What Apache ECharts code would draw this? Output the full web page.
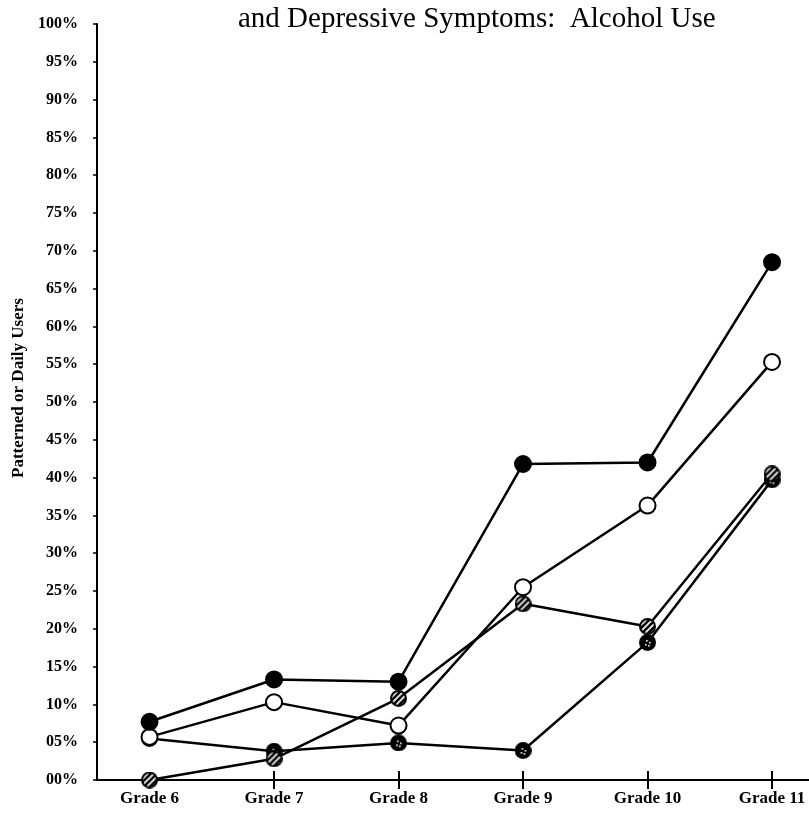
<!DOCTYPE html>
<html>
<head>
<meta charset="utf-8">
<script src="https://cdn.jsdelivr.net/npm/echarts@6/dist/echarts.min.js"></script>
<style>
  html, body { margin: 0; padding: 0; background: #fff; }
  #chart { width: 809px; height: 817px; }
</style>
</head>
<body>
<div id="chart"></div>
<script>
// grades on the x axis
const grades = [6, 7, 8, 9, 10, 11];
const gradeTicks = [7, 8, 9, 10, 11];

// percent of patterned or daily users, one list per group
const solidSeries = [7.7, 13.3, 13.0, 41.8, 42.0, 68.5];
const openSeries = [5.7, 10.3, 7.2, 25.5, 36.3, 55.3];
const stripedSeries = [0, 2.8, 10.8, 23.3, 20.3, 40.5];
const dottedSeries = [5.5, 3.8, 4.9, 3.9, 18.2, 39.7];

const serif = 'Liberation Serif';
const markSize = 17;

// hatched marker images, drawn once on a small canvas
function marker(kind) {
  const s = markSize, r = s / 2 - 1;
  const c = document.createElement('canvas');
  c.width = c.height = s;
  const g = c.getContext('2d');
  g.beginPath();
  g.arc(s / 2, s / 2, r, 0, Math.PI * 2);
  g.fillStyle = kind === 'stripes' ? '#fff' : '#000';
  g.fill();
  g.save();
  g.clip();
  if (kind === 'stripes') {
    g.strokeStyle = '#000';
    g.lineWidth = 2.6;
    for (let k = -s; k <= 2 * s; k += 6) {
      g.beginPath();
      g.moveTo(k, s);
      g.lineTo(k + s, 0);
      g.stroke();
    }
  } else {
    g.fillStyle = '#fff';
    [[7, 6], [10, 8], [6, 10], [9, 11]].forEach(p => g.fillRect(p[0], p[1], 1.6, 1.6));
  }
  g.restore();
  g.beginPath();
  g.arc(s / 2, s / 2, r, 0, Math.PI * 2);
  g.strokeStyle = '#000';
  g.lineWidth = 2;
  g.stroke();
  return 'image://' + c.toDataURL();
}

function pairs(vals) {
  return grades.map((g, i) => [g, vals[i]]);
}

function lineSeries(vals, symbol, fill) {
  return {
    type: 'line',
    data: pairs(vals),
    symbol: symbol,
    symbolSize: symbol === 'circle' ? 16 : markSize,
    lineStyle: { color: '#000', width: 2.5 },
    itemStyle: { color: fill, borderColor: '#000', borderWidth: 2 },
    emphasis: { disabled: true },
    animation: false
  };
}

const xMin = 5.578, xMax = 11.297;

const chart = echarts.init(document.getElementById('chart'));
chart.setOption({
  animation: false,
  title: {
    text: 'and Depressive Symptoms:  Alcohol Use',
    left: 233,
    top: 0,
    textStyle: { fontFamily: serif, fontWeight: 'normal', fontSize: 29, color: '#000' }
  },
  grid: { left: 97, right: 0, top: 24, bottom: 37 },
  xAxis: [
    {
      type: 'value',
      min: xMin,
      max: xMax,
      axisLine: { show: true, lineStyle: { color: '#000', width: 2 } },
      splitLine: { show: false },
      axisTick: { show: true, customValues: gradeTicks, length: 9, lineStyle: { color: '#000', width: 2 } },
      axisLabel: {
        customValues: grades,
        formatter: v => 'Grade ' + v,
        fontFamily: serif, fontWeight: 'bold', fontSize: 17, color: '#000', margin: 10
      }
    },
    {
      type: 'value',
      position: 'bottom',
      min: xMin,
      max: xMax,
      axisLine: { show: false },
      splitLine: { show: false },
      axisTick: { show: true, inside: true, customValues: gradeTicks, length: 9, lineStyle: { color: '#000', width: 2 } },
      axisLabel: { show: false }
    }
  ],
  yAxis: {
    type: 'value',
    min: 0,
    max: 100,
    interval: 5,
    name: 'Patterned or Daily Users',
    nameLocation: 'middle',
    nameGap: 70,
    nameTextStyle: { fontFamily: serif, fontWeight: 'bold', fontSize: 17, color: '#000', padding: [0, 0, 0, 28] },
    axisLine: { show: true, lineStyle: { color: '#000', width: 2 } },
    axisTick: { show: true, length: 4, lineStyle: { color: '#000', width: 1.5 } },
    splitLine: { show: false },
    axisLabel: {
      formatter: v => (v < 10 ? '0' : '') + v + '%',
      fontFamily: serif, fontWeight: 'bold', fontSize: 16, color: '#000', margin: 19
    }
  },
  series: [
    lineSeries(dottedSeries, marker('dots'), '#000'),
    lineSeries(stripedSeries, marker('stripes'), '#fff'),
    lineSeries(openSeries, 'circle', '#fff'),
    lineSeries(solidSeries, 'circle', '#000')
  ]
});
</script>
</body>
</html>
